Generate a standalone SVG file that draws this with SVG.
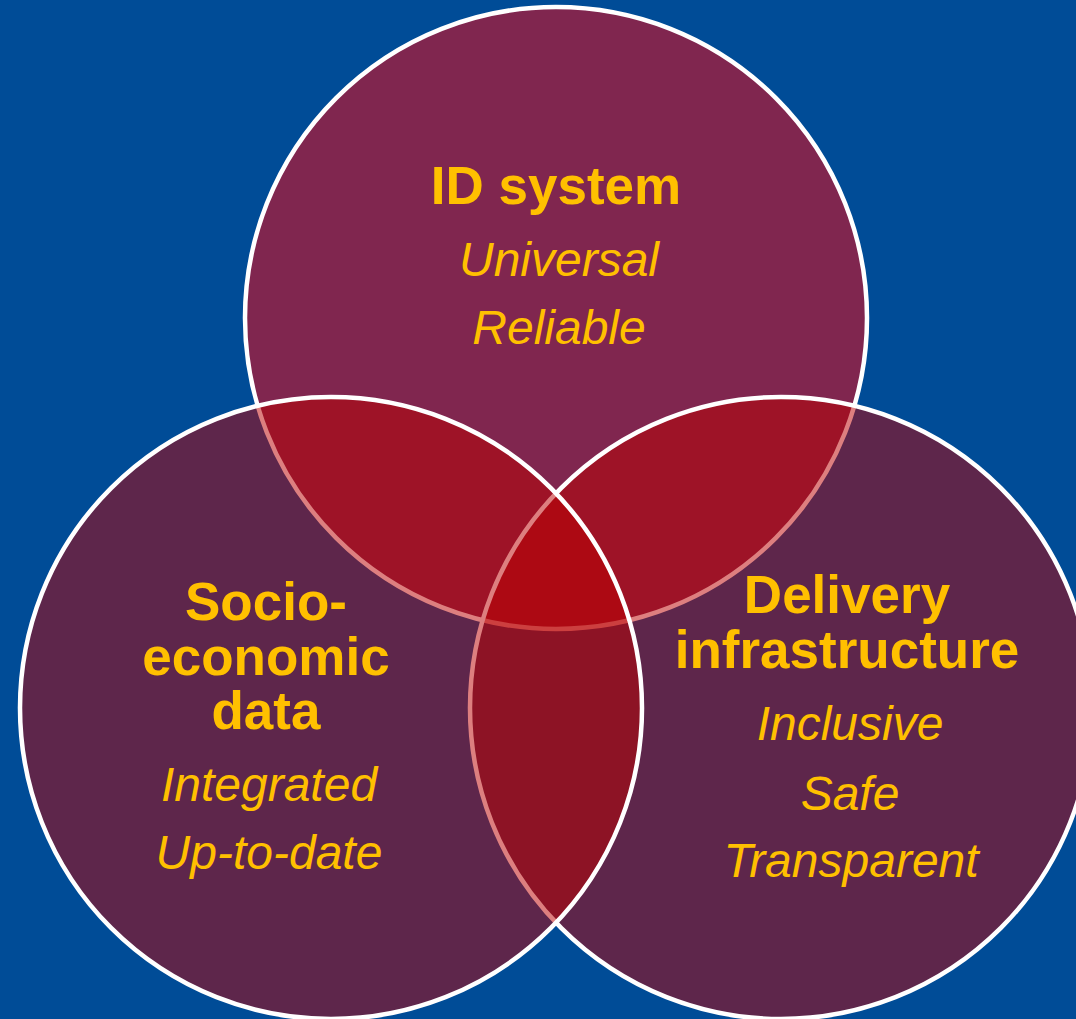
<svg xmlns="http://www.w3.org/2000/svg" width="1076" height="1019" viewBox="0 0 1076 1019">
  <style>
    .ring { stroke: #ffffff; stroke-width: 4.5; }
    .top { fill: #80264F; }
    .side { fill: #BC0000; fill-opacity: 0.5; }
    .title { font-family: "Liberation Sans", Arial, sans-serif; font-weight: bold; font-size: 53px; fill: #FFC000; text-anchor: middle; }
    .item { font-family: "Liberation Sans", Arial, sans-serif; font-style: italic; font-size: 48px; fill: #FFC000; text-anchor: middle; }
  </style>
  <rect width="1076" height="1019" fill="#004C97"/>

  <!-- ID system (drawn first, beneath the other two) -->
  <g id="id-system">
    <circle class="ring top" cx="556" cy="318" r="311"/>
  </g>

  <!-- Delivery infrastructure -->
  <g id="delivery-infrastructure">
    <circle class="ring side" cx="781" cy="708" r="311"/>
  </g>

  <!-- Socio-economic data -->
  <g id="socio-economic-data">
    <circle class="ring side" cx="331" cy="708" r="311"/>
  </g>

  <!-- Labels -->
  <g id="id-system-label">
    <text class="title" x="556" y="204">ID system</text>
    <text class="item" x="559" y="276">Universal</text>
    <text class="item" x="559" y="344">Reliable</text>
  </g>
  <g id="socio-economic-label">
    <text class="title" x="266" y="620">Socio-</text>
    <text class="title" x="266" y="675">economic</text>
    <text class="title" x="266" y="729">data</text>
    <text class="item" x="269" y="801">Integrated</text>
    <text class="item" x="269" y="869">Up-to-date</text>
  </g>
  <g id="delivery-label">
    <text class="title" x="847" y="613">Delivery</text>
    <text class="title" x="847" y="668">infrastructure</text>
    <text class="item" x="850" y="740">Inclusive</text>
    <text class="item" x="850" y="810">Safe</text>
    <text class="item" x="851" y="877">Transparent</text>
  </g>
</svg>
